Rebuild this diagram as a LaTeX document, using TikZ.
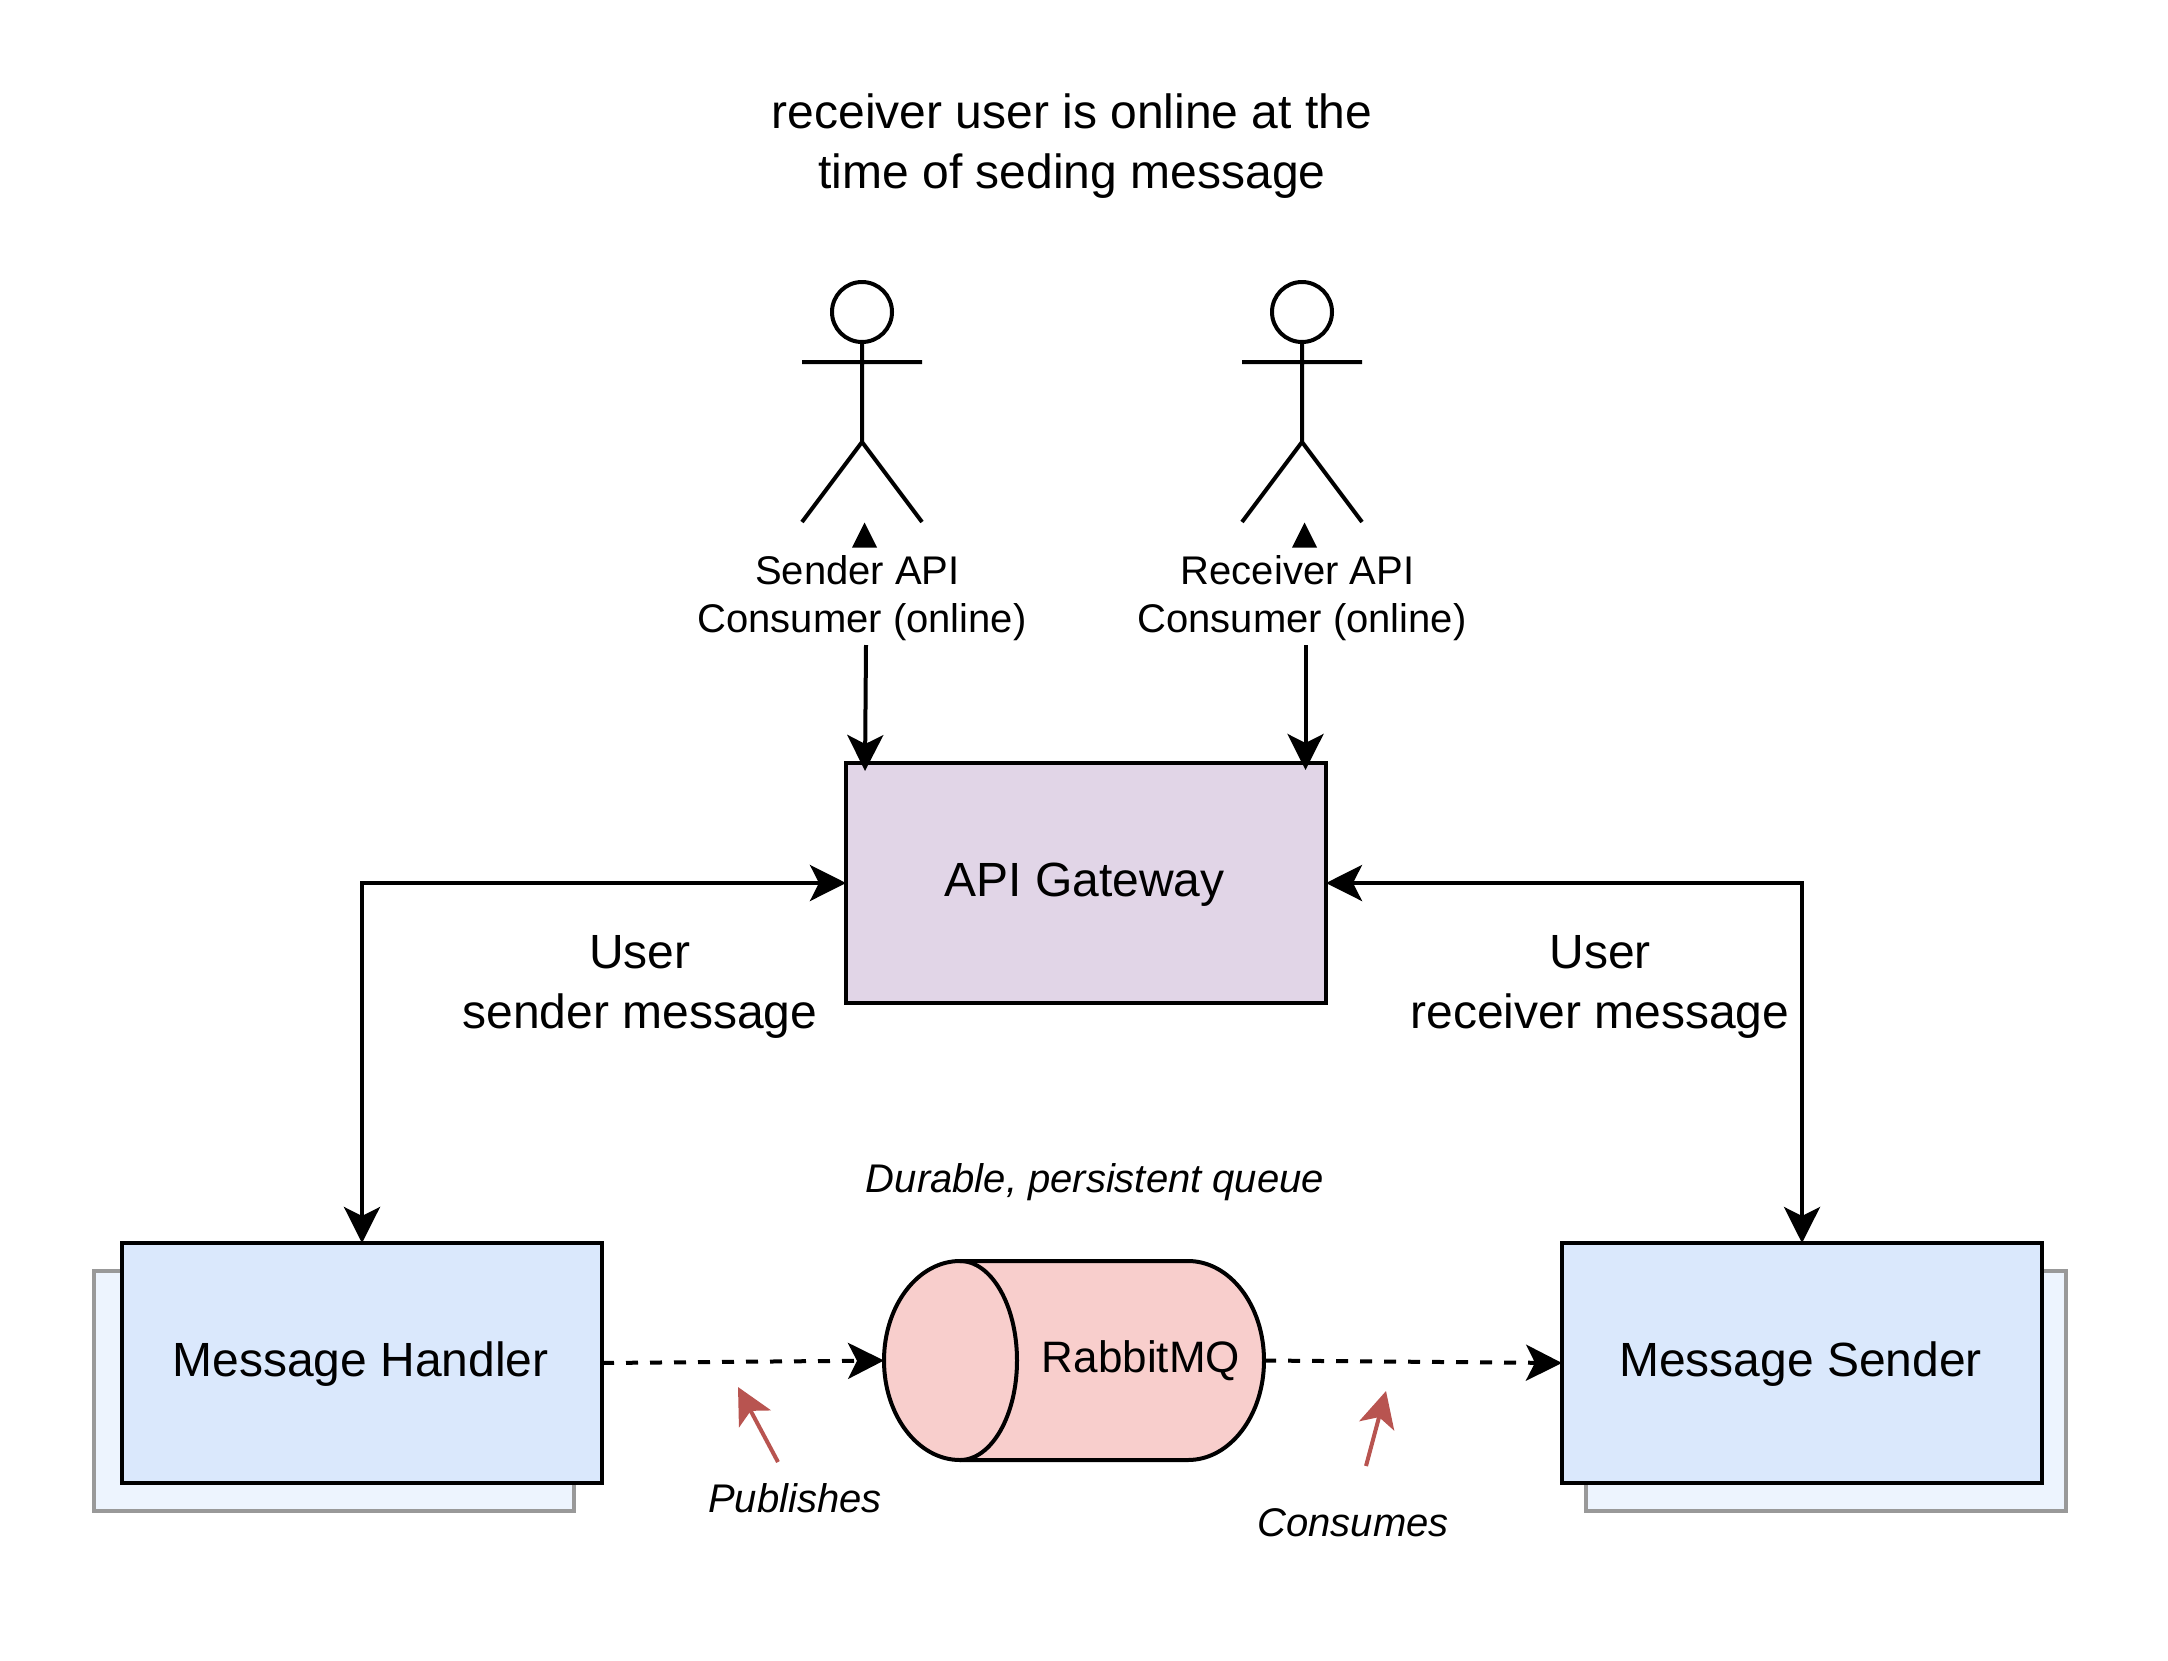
\documentclass[tikz,border=0pt]{standalone}
\usepackage{fontspec}
\setmainfont{Liberation Sans}
\usetikzlibrary{arrows.meta}
\definecolor{boxblue}{HTML}{DAE8FC}
\definecolor{backblue}{HTML}{EDF4FE}
\definecolor{gwpurple}{HTML}{E1D5E7}
\definecolor{mqpink}{HTML}{F8CECC}
\definecolor{redline}{HTML}{B85450}
\definecolor{backgrey}{HTML}{999999}
\tikzset{
  x=1pt,y=-1pt,
  every node/.style={inner sep=0pt,outer sep=0pt},
  line/.style={line width=4pt,black},
  bigtip/.style={-{Stealth[length=36pt,width=36pt,inset=9pt]}},
  dbltip/.style={{Stealth[length=36pt,width=36pt,inset=9pt]}-{Stealth[length=36pt,width=36pt,inset=9pt]}},
  dashline/.style={line,dash pattern=on 12pt off 12pt},
  redarrow/.style={line width=4pt,redline,-{Stealth[length=36pt,width=36pt,inset=9pt]}},
  mainbox/.style={draw=black,line width=4pt,minimum width=480pt,minimum height=240pt,text height=36pt,text depth=10pt,font=\fontsize{48}{60}\selectfont,execute at begin node=\hspace*{-3pt}},
  backbox/.style={draw=backgrey,line width=4pt,fill=backblue,minimum width=480pt,minimum height=240pt},
  biglabel/.style={align=center,font=\fontsize{48}{60}\selectfont},
  midlabel/.style={align=center,font=\fontsize{40}{47.5}\selectfont},
  itlabel/.style={anchor=base,font=\fontsize{40}{48}\selectfont\itshape},
  actor/.style={line width=4pt,black},
}
\begin{document}
\begin{tikzpicture}
\useasboundingbox (0,0) rectangle (2168,1660);
% title
\node[biglabel] (title) at (1072,146) {receiver user is online at the\\time of seding message};
% actors
\draw[actor] (862,342) -- (862,442) (802,362) -- (922,362) (802,522) -- (862,442) -- (922,522);
\node[draw=black,line width=4pt,circle,minimum size=60pt] (head1) at (862,312) {};
\draw[actor] (1302,342) -- (1302,442) (1242,362) -- (1362,362) (1242,522) -- (1302,442) -- (1362,522);
\node[draw=black,line width=4pt,circle,minimum size=60pt] (head2) at (1302,312) {};
\fill (864.5,522.5) -- (877,547.5) -- (852,547.5) -- cycle;
\fill (1304.5,522.5) -- (1317,547.5) -- (1292,547.5) -- cycle;
\node[midlabel] (sl) at (862,598) {\hspace*{-9pt}Sender API\\Consumer (online)};
\node[midlabel] (rl) at (1302,598) {\hspace*{-9pt}Receiver API\\Consumer (online)};
% boxes
\node[mainbox,fill=gwpurple] (gw) at (1086,883) {API Gateway};
\node[backbox] (hb) at (334,1391) {};
\node[mainbox,fill=boxblue] (mh) at (362,1363) {Message Handler};
\node[backbox] (sb) at (1826,1391) {};
\node[mainbox,fill=boxblue] (ms) at (1802,1363) {Message Sender};
% cylinder
\path[draw=black,line width=4pt,fill=mqpink] (960,1261) -- (1188,1261)
  arc[start angle=90,end angle=-90,x radius=76pt,y radius=99.5pt] -- (960,1460)
  arc[start angle=-90,end angle=-270,x radius=76pt,y radius=99.5pt] -- cycle;
\draw[line] (960,1261) arc[start angle=90,end angle=-90,x radius=57pt,y radius=99.5pt];
\node[anchor=base,font=\fontsize{44}{52}\selectfont] (mq) at (1141,1372) {RabbitMQ};
\coordinate (mqleft) at (884,1360.5);
\coordinate (mqright) at (1264,1360.5);
% labels
\node[biglabel] (ul) at (640,987) {User\\sender message};
\node[biglabel] (ur) at (1600,987) {User\\receiver message};
\node[itlabel] (dur) at (1095,1192) {Durable, persistent queue};
\node[itlabel] (pub) at (795,1512) {Publishes};
\node[itlabel] (con) at (1353,1536) {Consumes};
% connectors
\coordinate (a1) at (866,645);
\coordinate (a2) at (865,771);
\coordinate (b1) at (1305.5,645);
\coordinate (b2) at (1305.5,770);
\draw[line,bigtip] (a1) -- (a2);
\draw[line,bigtip] (b1) -- (b2);
\draw[line,dbltip] (mh.north) -- (mh.north |- gw.west) -- (gw.west);
\draw[line,dbltip] (ms.north) -- (ms.north |- gw.east) -- (gw.east);
\draw[dashline,bigtip] (mh.east) -- (mqleft);
\draw[dashline,bigtip] (mqright) -- (ms.west);
\coordinate (p1) at (778,1462);
\coordinate (p2) at (738,1387);
\coordinate (c1) at (1366,1466);
\coordinate (c2) at (1386,1391);
\draw[redarrow] (p1) -- (p2);
\draw[redarrow] (c1) -- (c2);
\end{tikzpicture}
\end{document}
